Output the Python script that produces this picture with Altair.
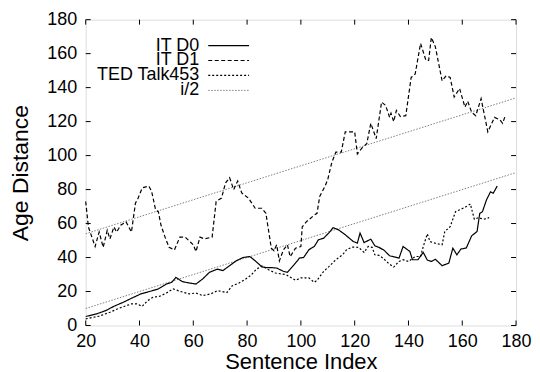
import altair as alt
import pandas as pd

# ---- data ----
it_d0_x = [20, 24, 27.5, 30.5, 34, 37, 40.5, 43.5, 47, 50, 52, 53.5, 56, 58.5, 61, 63.5, 66, 69, 71, 73.5,
           76, 78.5, 81, 83, 85.5, 87.5, 89.5, 91, 93.5, 95, 97.5, 99.5, 101, 103, 105, 106.5, 108.5, 110.5,
           112, 114, 116.5, 119.5, 121, 122, 123.5, 126, 127.5, 129, 131, 133, 136.5, 138, 140.5, 141.5,
           143.5, 145.5, 147, 148.5, 150, 152.5, 155, 156.5, 158, 159.5, 161.5, 163.5, 165.5, 166.5, 167.5,
           169, 170.5, 171.5, 173]
it_d0_y = [5.3, 6.8, 8.8, 11.3, 13.7, 16, 18.6, 19.9, 21.5, 24.4, 25.4, 28.3, 25.8, 25, 24.4, 27.4, 31.3,
           33.2, 32.3, 35.2, 38.1, 40, 40.6, 38.1, 34.5, 34, 34, 33.8, 31.9, 31.3, 35.8, 39.7, 40, 44.6, 46.5,
           50.4, 51.4, 54.7, 57.6, 56.3, 53.4, 49.4, 48.5, 54.4, 48.8, 50.8, 46.9, 46, 44.2, 41, 39.7, 46.5,
           43.6, 38.7, 38.7, 43, 38.5, 37.7, 39, 35.2, 36.7, 45.5, 41.6, 45, 45.6, 52.8, 55.3, 66, 67, 73.9,
           78.7, 77.8, 82.1]

it_d1_x = [20, 21, 23.5, 25, 26.5, 28, 29, 30.5, 31.5, 33, 35, 37, 38.5, 39.5, 41, 43.5, 44.5, 46, 47, 48,
           49.5, 51, 53, 55, 57, 59, 60, 61, 62.5, 64, 67, 68.5, 70.5, 72, 73.5, 75, 76.5, 78, 80.5, 83, 85.5,
           87, 89, 90, 91, 92, 93.5, 95, 96, 98, 100, 100.5, 102, 105, 106, 107, 109, 110, 111.5, 113, 115,
           116.5, 120, 121, 123, 124.5, 126, 128, 130, 131.5, 133, 133.5, 134.5, 135.5, 137, 139, 141, 142.5,
           144.5, 146.5, 147.5, 148.5, 150, 152.5, 154, 155.5, 157, 159, 161, 162, 163.5, 165, 167, 169.5,
           172, 174, 175, 176]
it_d1_y = [73, 58, 46.5, 55, 46, 56, 51, 58, 55, 59, 61, 55, 72, 75, 81, 82, 79, 68, 67, 59, 52, 46, 44.5,
           52, 52, 49, 47.5, 43.5, 52, 51, 52, 73, 75, 84, 87, 80, 85, 78, 75, 69, 69, 66, 45.5, 44, 47.5, 38,
           44.5, 47.5, 40.5, 45.5, 46.5, 58, 61, 65, 66, 76, 82, 86, 96, 102, 102, 114, 114, 101, 105, 107,
           119, 110, 131.5, 129.5, 122.5, 125, 120, 126.5, 123, 123.5, 146, 148, 166, 156, 156, 169.5, 164,
           144, 147, 146, 134.5, 139.5, 128.5, 132, 125.5, 123.5, 133.5, 114, 122.5, 121, 119, 123.5]

ted_x = [20, 25, 29, 32.5, 37, 39, 41, 43, 45, 47.5, 50, 52.5, 55.5, 58.5, 61, 63.5, 66.5, 69, 72.5, 74.5,
         77, 79.5, 81.5, 83.5, 85.5, 88, 90.5, 94.5, 98, 100, 103, 105, 106, 108.5, 110.5, 113, 115.5, 117,
         119, 121.5, 123.5, 125, 126.5, 127.5, 129, 130.5, 132.5, 134.5, 136.5, 138, 140, 142.5, 144.5,
         145.5, 147, 148, 150, 152.5, 153.5, 155.5, 157.5, 159.5, 161.5, 163, 164.5, 166, 168, 170]
ted_y = [3.9, 5.5, 7.8, 10.2, 12.7, 12.7, 11.3, 14.6, 16.6, 17.2, 19.1, 21.5, 19.9, 18.6, 19.1, 17.6, 18.6,
         20.5, 19.4, 23.4, 25, 27.4, 29.7, 33.2, 35, 32.8, 30.9, 29.9, 26.6, 28, 28, 25.4, 26.6, 31.9, 34.8,
         38.7, 41.6, 44.6, 46.1, 46, 43, 46.5, 46, 41.6, 41.3, 39.7, 36.7, 34.4, 37.7, 38.7, 37.7, 40.6,
         40.6, 46.5, 53.9, 49.4, 48.4, 47.5, 55.3, 58.2, 67, 68.4, 70, 71.5, 62.5, 63.5, 62.5, 63.5]

half_x = [20, 180]
half_low_y = [10, 90]
half_high_y = [54, 134]

x_ticks = [20, 40, 60, 80, 100, 120, 140, 160, 180]
y_ticks = [0, 20, 40, 60, 80, 100, 120, 140, 160, 180]
legend_labels = ["IT D0", "IT D1", "TED Talk453", "i/2"]

FONT = "Liberation Sans"
W, H = 432, 307
TICK = 5

xs = alt.Scale(domain=[20, 180], nice=False, zero=False)
ys = alt.Scale(domain=[0, 180], nice=False, zero=False)

x_axis = alt.Axis(values=x_ticks, ticks=False, domain=False, grid=False, labelFontSize=18,
                  labelPadding=7, labelColor="black", labelFont=FONT, labelOverlap=False,
                  labelFlush=False, title="Sentence Index",
                  titleFont=FONT, titleFontSize=22, titleFontWeight="normal", titleColor="black",
                  titlePadding=1)
y_axis = alt.Axis(values=y_ticks, ticks=False, domain=False, grid=False, labelFontSize=18,
                  labelPadding=9, labelColor="black", labelFont=FONT, labelOverlap=False,
                  labelFlush=False, title="Age Distance",
                  titleFont=FONT, titleFontSize=23, titleFontWeight="normal", titleColor="black",
                  titlePadding=14)

X = lambda f: alt.X(f, scale=xs, axis=x_axis, title="Sentence Index")
Y = lambda f: alt.Y(f, scale=ys, axis=y_axis, title="Age Distance")


def series(xv, yv, dash, color="black", width=1.2):
    df = pd.DataFrame({"x": xv, "y": yv})
    return alt.Chart(df).mark_line(color=color, strokeWidth=width, strokeDash=dash).encode(
        x=X("x:Q"), y=Y("y:Q"))


layers = [
    series(half_x, half_low_y, [1.5, 1.5], color="#808080", width=1),
    series(half_x, half_high_y, [1.5, 1.5], color="#808080", width=1),
    series(ted_x, ted_y, [2, 2]),
    series(it_d1_x, it_d1_y, [4, 2.5]),
    series(it_d0_x, it_d0_y, [1, 0]),
]

# inward ticks on all four sides
xt = pd.DataFrame({"x": x_ticks})
yt = pd.DataFrame({"y": y_ticks})
layers += [
    alt.Chart(xt).mark_rule(color="black", strokeWidth=1).encode(
        x=X("x:Q"), y=alt.value(H), y2=alt.value(H - TICK)),
    alt.Chart(xt).mark_rule(color="black", strokeWidth=1).encode(
        x=X("x:Q"), y=alt.value(0), y2=alt.value(TICK)),
    alt.Chart(yt).mark_rule(color="black", strokeWidth=1).encode(
        y=Y("y:Q"), x=alt.value(0), x2=alt.value(TICK)),
    alt.Chart(yt).mark_rule(color="black", strokeWidth=1).encode(
        y=Y("y:Q"), x=alt.value(W - TICK), x2=alt.value(W)),
]

# legend (gnuplot style: right-aligned text, then line sample)
styles = [
    dict(color="black", strokeDash=[1, 0], strokeWidth=1.2),
    dict(color="black", strokeDash=[4, 2.5], strokeWidth=1.2),
    dict(color="black", strokeDash=[2, 2], strokeWidth=1.2),
    dict(color="#808080", strokeDash=[1.5, 1.5], strokeWidth=1),
]
for i, (lab, st) in enumerate(zip(legend_labels, styles)):
    ly = 26 + i * 15
    ld = pd.DataFrame({"label": [lab]})
    layers.append(alt.Chart(ld).mark_text(align="right", baseline="middle", font=FONT, fontSize=18,
                                           color="black").encode(
        text="label:N", x=alt.value(114), y=alt.value(ly)))
    layers.append(alt.Chart(ld).mark_rule(**st).encode(
        x=alt.value(123), x2=alt.value(164), y=alt.value(ly)))

chart = alt.layer(*layers).properties(
    width=W, height=H,
    autosize=alt.AutoSizeParams(type="none"),
    padding={"left": 78, "top": 11, "right": 16, "bottom": 50},
).configure_view(stroke="black", strokeWidth=1.5).configure(background="white")

chart.save("out.html", embed_options={"renderer": "svg", "actions": False})
